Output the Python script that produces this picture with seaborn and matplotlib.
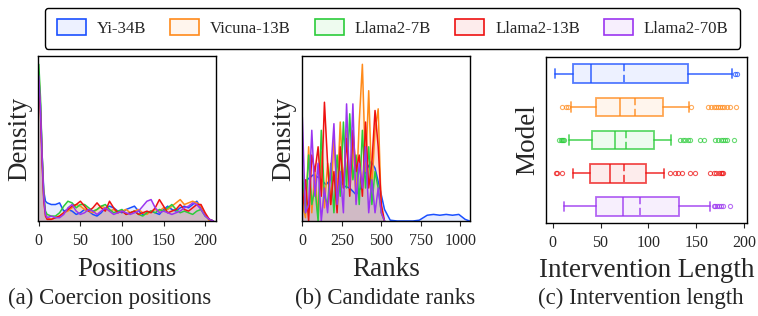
import numpy as np
import seaborn as sns
import matplotlib.pyplot as plt
from matplotlib.patches import Patch
from matplotlib.colors import to_rgba

# modeles et couleurs
models = ["Yi-34B", "Vicuna-13B", "Llama2-7B", "Llama2-13B", "Llama2-70B"]
colors = ["#1a4fff", "#ff8a1a", "#2bcc3a", "#ee1111", "#9b35f0"]

# (a) densites des positions de coercion (echelle relative)
pos_x = [0, 2, 4, 6, 8, 10, 15, 20, 25, 30, 35, 40, 45, 50, 55, 60, 65, 70, 75, 80,
         85, 90, 95, 100, 105, 110, 115, 120, 125, 130, 135, 140, 145, 150, 155, 160,
         165, 170, 175, 180, 185, 190, 195, 200, 205, 210]
pos_yi = [0.87, 0.70, 0.40, 0.18, 0.12, 0.11, 0.10, 0.10, 0.11, 0.06, 0.07, 0.06, 0.04, 0.05,
          0.07, 0.06, 0.04, 0.03, 0.05, 0.08, 0.09, 0.08, 0.06, 0.05, 0.07, 0.08, 0.09, 0.06,
          0.04, 0.05, 0.06, 0.05, 0.04, 0.07, 0.09, 0.07, 0.06, 0.08, 0.09, 0.08, 0.10, 0.12,
          0.08, 0.04, 0.01, 0.0]
pos_vicuna = [0.90, 0.70, 0.40, 0.15, 0.05, 0.02, 0.01, 0.02, 0.03, 0.05, 0.06, 0.08, 0.10, 0.09,
              0.07, 0.06, 0.05, 0.07, 0.09, 0.08, 0.06, 0.07, 0.05, 0.06, 0.07, 0.05, 0.06, 0.07,
              0.05, 0.04, 0.06, 0.07, 0.06, 0.08, 0.07, 0.09, 0.11, 0.13, 0.10, 0.11, 0.12, 0.11,
              0.09, 0.04, 0.0, 0.0]
pos_7b = [0.95, 0.75, 0.40, 0.15, 0.06, 0.04, 0.03, 0.03, 0.05, 0.09, 0.12, 0.11, 0.08, 0.10,
          0.10, 0.08, 0.06, 0.07, 0.09, 0.10, 0.07, 0.05, 0.06, 0.07, 0.04, 0.05, 0.06, 0.04,
          0.03, 0.05, 0.06, 0.05, 0.07, 0.06, 0.08, 0.10, 0.07, 0.05, 0.06, 0.05, 0.04, 0.06,
          0.07, 0.03, 0.01, 0.0]
pos_13b = [0.85, 0.65, 0.35, 0.12, 0.03, 0.01, 0.01, 0.02, 0.03, 0.05, 0.07, 0.09, 0.10, 0.12,
           0.09, 0.06, 0.08, 0.11, 0.08, 0.06, 0.12, 0.08, 0.05, 0.06, 0.04, 0.05, 0.06, 0.04,
           0.05, 0.06, 0.05, 0.08, 0.13, 0.09, 0.05, 0.06, 0.07, 0.10, 0.07, 0.06, 0.08, 0.10,
           0.10, 0.05, 0.01, 0.0]
pos_70b = [0.88, 0.68, 0.38, 0.14, 0.04, 0.02, 0.03, 0.02, 0.02, 0.04, 0.08, 0.10, 0.06, 0.04,
           0.05, 0.07, 0.06, 0.04, 0.06, 0.08, 0.06, 0.04, 0.05, 0.06, 0.05, 0.04, 0.05, 0.06,
           0.09, 0.12, 0.13, 0.08, 0.05, 0.06, 0.05, 0.04, 0.05, 0.06, 0.08, 0.09, 0.11, 0.10,
           0.07, 0.03, 0.01, 0.0]

# (b) densites des rangs des candidats
rank_x = [0, 20, 40, 60, 80, 100, 120, 140, 160, 180, 200, 220, 240, 260, 280, 300, 320,
          340, 360, 380, 400, 420, 440, 460, 480, 500, 520]
rank_vicuna = [0.10, 0.02, 0.45, 0.05, 0.30, 0.02, 0.42, 0.08, 0.35, 0.10, 0.50, 0.15, 0.60,
               0.20, 0.55, 0.25, 0.50, 0.12, 0.60, 0.95, 0.30, 0.79, 0.20, 0.55, 0.68, 0.05, 0.0]
rank_7b = [0.30, 0.05, 0.40, 0.10, 0.20, 0.0, 0.55, 0.15, 0.10, 0.35, 0.05, 0.40, 0.15, 0.60,
           0.20, 0.65, 0.25, 0.40, 0.10, 0.55, 0.20, 0.45, 0.10, 0.30, 0.20, 0.05, 0.0]
rank_13b = [0.05, 0.25, 0.0, 0.40, 0.30, 0.45, 0.15, 0.72, 0.35, 0.10, 0.30, 0.05, 0.45, 0.20,
            0.50, 0.15, 0.55, 0.30, 0.40, 0.15, 0.60, 0.20, 0.35, 0.67, 0.45, 0.10, 0.0]
rank_70b = [0.63, 0.05, 0.10, 0.55, 0.15, 0.35, 0.0, 0.20, 0.05, 0.30, 0.59, 0.10, 0.30, 0.05,
            0.71, 0.20, 0.71, 0.10, 0.35, 0.20, 0.45, 0.05, 0.25, 0.05, 0.20, 0.05, 0.0]
rank_yi_x = [0, 30, 70, 110, 150, 195, 230, 270, 300, 340, 370, 400, 435, 460, 490, 520, 556,
             600, 700, 740, 790, 830, 870, 910, 950, 990, 1030, 1058]
rank_yi = [0.21, 0.25, 0.28, 0.26, 0.22, 0.27, 0.25, 0.21, 0.20, 0.16, 0.20, 0.30, 0.36, 0.32,
           0.20, 0.07, 0.005, 0.0, 0.0, 0.005, 0.035, 0.04, 0.035, 0.04, 0.035, 0.04, 0.01, 0.0]

# (c) longueur d'intervention : statistiques des boites
box_med = [40, 70, 65, 60, 73]
box_mean = [75, 86, 77, 74, 91]
box_q1 = [21, 45, 41, 39, 45]
box_q3 = [141, 115, 106, 98, 132]
box_whislo = [2, 19, 17, 21, 12]
box_whishi = [187, 142, 124, 116, 164]
box_fliers = [
    [190, 193],
    [10, 14, 16, 145, 162, 165, 168, 171, 173, 175, 177, 179, 182, 185, 191],
    [7, 9, 10, 11, 12, 133, 136, 138, 141, 143, 154, 158, 170, 173, 176, 178, 180, 182, 189],
    [3, 4, 10, 123, 128, 131, 135, 143, 149, 164, 168, 171, 174, 176, 177, 178],
    [168, 170, 172, 174, 176, 178, 185],
]

sns.set_style("white")
plt.rcParams["font.family"] = ["Liberation Serif", "DejaVu Serif"]

fig = plt.figure(figsize=(7.58, 3.16), dpi=100)
ax_a = fig.add_axes([0.0501, 0.3006, 0.2348, 0.522])
ax_b = fig.add_axes([0.3984, 0.3006, 0.2215, 0.522])
ax_c = fig.add_axes([0.7203, 0.2943, 0.2652, 0.525])

label_fs = 19.5
tick_fs = 11.5

# (a)
pos_series = [pos_yi, pos_vicuna, pos_7b, pos_13b, pos_70b]
for ys, c in zip(pos_series, colors):
    ax_a.fill_between(pos_x, ys, color=c, alpha=0.1, lw=0)
    sns.lineplot(x=pos_x, y=ys, ax=ax_a, color=c, lw=1.1)
ax_a.set_xlim(-1, 213)
ax_a.set_ylim(0, 1.0)
ax_a.set_xticks([0, 50, 100, 150, 200])
ax_a.set_yticks([])
ax_a.set_xlabel("Positions", fontsize=label_fs, labelpad=6)
ax_a.set_ylabel("Density", fontsize=label_fs)

# (b)
ax_b.fill_between(rank_yi_x, rank_yi, color=colors[0], alpha=0.1, lw=0)
sns.lineplot(x=rank_yi_x, y=rank_yi, ax=ax_b, color=colors[0], lw=1.1)
rank_series = [rank_vicuna, rank_7b, rank_13b, rank_70b]
for ys, c in zip(rank_series, colors[1:]):
    ax_b.fill_between(rank_x, ys, color=c, alpha=0.1, lw=0)
    sns.lineplot(x=rank_x, y=ys, ax=ax_b, color=c, lw=1.1)
ax_b.set_xlim(-2, 1060)
ax_b.set_ylim(0, 1.0)
ax_b.set_xticks([0, 250, 500, 750, 1000])
ax_b.set_yticks([])
ax_b.set_xlabel("Ranks", fontsize=label_fs, labelpad=6)
ax_b.set_ylabel("Density", fontsize=label_fs)

# (c)
stats = []
for i in range(len(models)):
    stats.append(dict(med=box_med[i], mean=box_mean[i], q1=box_q1[i], q3=box_q3[i],
                      whislo=box_whislo[i], whishi=box_whishi[i], fliers=box_fliers[i],
                      label=models[i]))
bp = ax_c.bxp(stats, positions=range(len(models)), orientation="horizontal", widths=0.56,
              patch_artist=True, showmeans=True, meanline=True)
for i, c in enumerate(colors):
    bp["boxes"][i].set(facecolor=to_rgba(c, 0.08), edgecolor=to_rgba(c, 0.75), lw=1.3)
    bp["medians"][i].set(color=to_rgba(c, 0.75), lw=1.3)
    bp["means"][i].set(color=to_rgba(c, 0.75), lw=1.3, ls=(0, (4, 2)))
    for w in bp["whiskers"][2 * i:2 * i + 2]:
        w.set(color=to_rgba(c, 0.75), lw=1.3)
    for cap in bp["caps"][2 * i:2 * i + 2]:
        cap.set(color=to_rgba(c, 0.75), lw=1.3)
    bp["fliers"][i].set(marker="o", markersize=3, markerfacecolor="none",
                        markeredgecolor=to_rgba(c, 0.7), markeredgewidth=0.8)
ax_c.set_ylim(4.5, -0.5)
ax_c.set_xlim(-7, 203)
ax_c.set_xticks([0, 50, 100, 150, 200])
ax_c.set_yticks([])
ax_c.set_xlabel("Intervention Length", fontsize=label_fs, labelpad=5)
ax_c.set_ylabel("Model", fontsize=label_fs)

for ax in (ax_a, ax_b, ax_c):
    for s in ax.spines.values():
        s.set_visible(True)
        s.set_color("black")
        s.set_linewidth(1.0)
    ax.tick_params(axis="x", bottom=True, direction="out", length=3.5, width=0.8,
                   labelsize=tick_fs, pad=5)

# legende commune
handles = [Patch(facecolor=to_rgba(c, 0.08), edgecolor=c, lw=1.2, label=m)
           for m, c in zip(models, colors)]
fig.legend(handles=handles, loc="center", bbox_to_anchor=(0.518, 0.911), ncol=5,
           fontsize=12.1, frameon=True, edgecolor="black", fancybox=True, framealpha=1,
           handlelength=1.75, handleheight=1.0, columnspacing=1.4, handletextpad=0.65,
           borderpad=0.7)

# sous-titres
fig.text(0.144, 0.055, "(a) Coercion positions", ha="center", va="center", fontsize=16.5)
fig.text(0.508, 0.055, "(b) Candidate ranks", ha="center", va="center", fontsize=16.5)
fig.text(0.846, 0.055, "(c) Intervention length", ha="center", va="center", fontsize=16.5)

fig.savefig("out.png", dpi=100)
